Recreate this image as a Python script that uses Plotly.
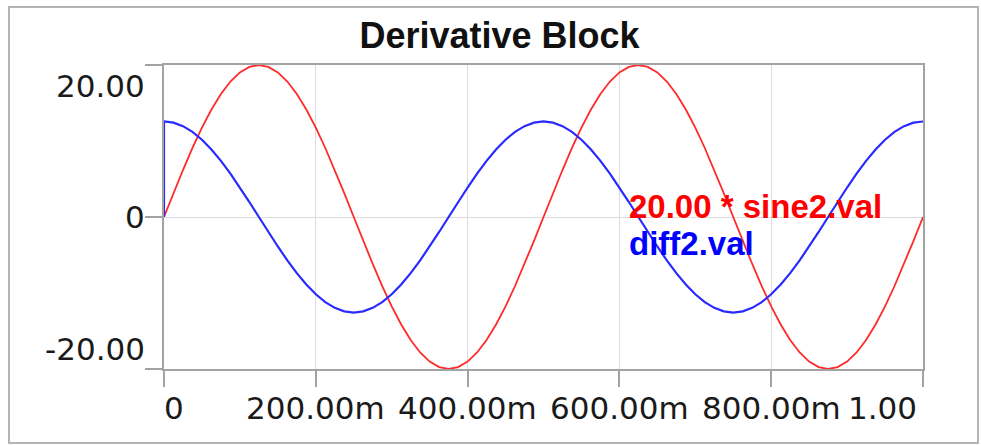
import numpy as np
import plotly.graph_objects as go

# Sample times (s), 12.5 ms step over one second
t = np.round(np.arange(81) * 0.0125, 4).tolist()

# 20.00 * sine2.val
sine_scaled = [
    0.00, 3.13, 6.18, 9.08, 11.76, 14.14, 16.18, 17.82, 19.02, 19.75, 20.00,
    19.75, 19.02, 17.82, 16.18, 14.14, 11.76, 9.08, 6.18, 3.13, 0.00,
    -3.13, -6.18, -9.08, -11.76, -14.14, -16.18, -17.82, -19.02, -19.75, -20.00,
    -19.75, -19.02, -17.82, -16.18, -14.14, -11.76, -9.08, -6.18, -3.13, 0.00,
    3.13, 6.18, 9.08, 11.76, 14.14, 16.18, 17.82, 19.02, 19.75, 20.00,
    19.75, 19.02, 17.82, 16.18, 14.14, 11.76, 9.08, 6.18, 3.13, 0.00,
    -3.13, -6.18, -9.08, -11.76, -14.14, -16.18, -17.82, -19.02, -19.75, -20.00,
    -19.75, -19.02, -17.82, -16.18, -14.14, -11.76, -9.08, -6.18, -3.13, 0.00,
]

# diff2.val (starts from 0 at t = 0, then jumps to the derivative)
diff_t = [0.0] + t
diff_vals = [
    0.00,
    12.57, 12.41, 11.95, 11.20, 10.17, 8.89, 7.39, 5.71, 3.88, 1.97, 0.00,
    -1.97, -3.88, -5.71, -7.39, -8.89, -10.17, -11.20, -11.95, -12.41, -12.57,
    -12.41, -11.95, -11.20, -10.17, -8.89, -7.39, -5.71, -3.88, -1.97, 0.00,
    1.97, 3.88, 5.71, 7.39, 8.89, 10.17, 11.20, 11.95, 12.41, 12.57,
    12.41, 11.95, 11.20, 10.17, 8.89, 7.39, 5.71, 3.88, 1.97, 0.00,
    -1.97, -3.88, -5.71, -7.39, -8.89, -10.17, -11.20, -11.95, -12.41, -12.57,
    -12.41, -11.95, -11.20, -10.17, -8.89, -7.39, -5.71, -3.88, -1.97, 0.00,
    1.97, 3.88, 5.71, 7.39, 8.89, 10.17, 11.20, 11.95, 12.41, 12.57,
]

x_ticks = [0, 0.2, 0.4, 0.6, 0.8, 1.0]
x_tick_labels = ["0", "200.00m", "400.00m", "600.00m", "800.00m", "1.00"]
y_ticks = [-20, 0, 20]
y_tick_labels = ["-20.00", "0", "20.00"]

W, H = 981, 445
ML, MR, MT, MB = 164, 58, 65, 76
PW, PH = W - ML - MR, H - MT - MB


def paper_x(px):
    return (px - ML) / PW


def paper_y(py):
    return (H - MB - py) / PH


AXIS = "#a3a3a3"
GRID = "#dcdcdc"
TICK_FONT = dict(family="DejaVu Sans", size=31, color="#1a1a1a")

fig = go.Figure()
fig.add_trace(go.Scatter(
    x=t, y=sine_scaled, mode="lines", name="20.00 * sine2.val",
    line=dict(color="#ff2a2a", width=1.8),
))
fig.add_trace(go.Scatter(
    x=diff_t, y=diff_vals, mode="lines", name="diff2.val",
    line=dict(color="#2a2aff", width=2.2),
))

# y tick labels, kept inside the plot's vertical span
y_anchor = {-20: ("bottom", 0), 0: ("middle", 0), 20: ("top", -1)}
for val, txt in zip(y_ticks, y_tick_labels):
    anchor, shift = y_anchor[val]
    fig.add_annotation(
        x=0, xref="paper", y=val, yref="y", text=txt, showarrow=False,
        xanchor="right", yanchor=anchor, xshift=-17, yshift=shift,
        font=TICK_FONT,
    )

# x tick labels; the end labels are pulled inside the axis span
for val, txt in zip(x_ticks, x_tick_labels):
    if val == x_ticks[0]:
        anchor, shift = "left", -2
    elif val == x_ticks[-1]:
        anchor, shift = "right", -4
    else:
        anchor, shift = "center", 0
    fig.add_annotation(
        x=val, xref="x", y=0, yref="paper", text=txt, showarrow=False,
        xanchor=anchor, xshift=shift, yanchor="middle", yshift=-39,
        font=TICK_FONT,
    )

# Inline series labels
fig.add_annotation(
    x=0.61, y=1.4, text="<b>20.00 * sine2.val</b>", showarrow=False,
    xanchor="left", yanchor="middle",
    font=dict(family="Liberation Sans", size=33, color="#ff0000"),
)
fig.add_annotation(
    x=0.61, y=-3.5, text="<b>diff2.val</b>", showarrow=False,
    xanchor="left", yanchor="middle",
    font=dict(family="Liberation Sans", size=33, color="#0000ff"),
)

# Outer frame around the whole chart
fig.add_shape(
    type="rect", xref="paper", yref="paper",
    x0=paper_x(9), x1=paper_x(978), y0=paper_y(443), y1=paper_y(7),
    line=dict(color="#b4b4b4", width=2), layer="below",
)

fig.update_layout(
    width=W, height=H,
    margin=dict(l=ML, r=MR, t=MT, b=MB),
    paper_bgcolor="white", plot_bgcolor="white",
    showlegend=False,
    title=dict(
        text="<b>Derivative Block</b>", x=499.5 / W, xref="container",
        xanchor="center", y=1 - 35 / H, yref="container", yanchor="middle",
        font=dict(family="Liberation Sans", size=36, color="#111111"),
    ),
    xaxis=dict(
        range=[0, 1], tickvals=x_ticks, showticklabels=False,
        showline=True, linecolor=AXIS, linewidth=2, mirror=True,
        ticks="outside", ticklen=16, tickwidth=2, tickcolor=AXIS,
        showgrid=True, gridcolor=GRID, gridwidth=1, zeroline=False,
    ),
    yaxis=dict(
        range=[-20, 20], tickvals=y_ticks, showticklabels=False,
        showline=True, linecolor=AXIS, linewidth=2, mirror=True,
        ticks="outside", ticklen=17, tickwidth=2, tickcolor=AXIS,
        showgrid=True, gridcolor=GRID, gridwidth=1, zeroline=False,
    ),
)

fig.write_html("out.html")
